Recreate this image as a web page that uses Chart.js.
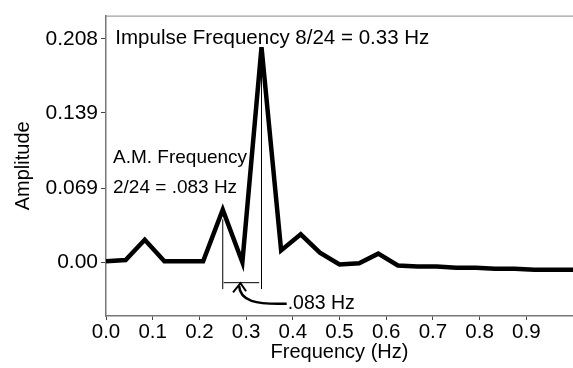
<!DOCTYPE html>
<html>
<head>
<meta charset="utf-8">
<script src="https://cdn.jsdelivr.net/npm/chart.js@4"></script>
<style>
  body { margin: 0; background: #fff; }
  canvas { display: block; }
</style>
</head>
<body>
<canvas id="spectrum" width="573" height="368"></canvas>
<script>
// harmonics of 1/24 Hz
const freqs = [0, 0.042, 0.083, 0.125, 0.167, 0.208, 0.25, 0.292, 0.333, 0.375, 0.417, 0.458, 0.5,
  0.542, 0.583, 0.625, 0.667, 0.708, 0.75, 0.792, 0.833, 0.875, 0.917, 0.958, 1.0];
const amps = [0.001, 0.002, 0.021, 0.001, 0.001, 0.001, 0.049, 0.0, 0.2, 0.011, 0.026, 0.009, -0.002,
  -0.001, 0.008, -0.003, -0.004, -0.004, -0.005, -0.005, -0.006, -0.006, -0.007, -0.007, -0.007];

const yTicks = [0, 0.069, 0.139, 0.208];
const yLabels = ["0.00", "0.069", "0.139", "0.208"];
const xTicks = [0, 0.1, 0.2, 0.3, 0.4, 0.5, 0.6, 0.7, 0.8, 0.9];
const xLabels = ["0.0", "0.1", "0.2", "0.3", "0.4", "0.5", "0.6", "0.7", "0.8", "0.9"];

const FONT = "'Liberation Sans', Arial, Helvetica, sans-serif";

// text + marker lines drawn on top, placed in data units
const notes = {
  id: "notes",
  afterDatasetsDraw(chart) {
    const { ctx, chartArea, scales } = chart;
    const px = v => scales.x.getPixelForValue(v);
    const py = v => scales.y.getPixelForValue(v);

    ctx.save();
    // frame top edge
    ctx.strokeStyle = "#888";
    ctx.lineWidth = 1;
    ctx.beginPath();
    ctx.moveTo(chartArea.left, chartArea.top + 0.5);
    ctx.lineTo(chartArea.right, chartArea.top + 0.5);
    ctx.stroke();

    ctx.fillStyle = "#000";
    ctx.textBaseline = "middle";
    ctx.textAlign = "left";
    ctx.font = "20.5px " + FONT;
    ctx.fillText("Impulse Frequency 8/24 = 0.33 Hz", px(0.02), py(0.208));
    ctx.font = "19px " + FONT;
    ctx.fillText("A.M. Frequency", px(0.015), py(0.097));
    ctx.fillText("2/24 = .083 Hz", px(0.015), py(0.069));
    ctx.font = "19.5px " + FONT;
    ctx.fillText(".083 Hz", px(0.389), py(-0.0385));

    // spacing markers between the two peaks
    ctx.strokeStyle = "#000";
    ctx.lineWidth = 1;
    ctx.beginPath();
    ctx.moveTo(px(0.25), py(0.04));
    ctx.lineTo(px(0.25), py(-0.025));
    ctx.moveTo(px(0.333), py(0.19));
    ctx.lineTo(px(0.333), py(-0.025));
    ctx.moveTo(px(0.252), py(-0.019));
    ctx.lineTo(px(0.328), py(-0.019));
    ctx.stroke();

    // curved arrow from label
    ctx.lineWidth = 2.5;
    ctx.beginPath();
    ctx.moveTo(px(0.387), py(-0.0385));
    ctx.bezierCurveTo(px(0.32), py(-0.0395), px(0.287), py(-0.036), px(0.285), py(-0.022));
    ctx.stroke();
    ctx.lineWidth = 2;
    ctx.beginPath();
    ctx.moveTo(px(0.272), py(-0.028));
    ctx.lineTo(px(0.288), py(-0.0195));
    ctx.lineTo(px(0.3), py(-0.027));
    ctx.stroke();
    ctx.restore();
  }
};

new Chart(document.getElementById("spectrum"), {
  type: "line",
  data: {
    datasets: [{
      data: freqs.map((f, i) => ({ x: f, y: amps[i] })),
      borderColor: "#000",
      borderWidth: 4.5,
      borderJoinStyle: "miter",
      pointRadius: 0,
      tension: 0,
      fill: false
    }]
  },
  options: {
    responsive: false,
    devicePixelRatio: 1,
    animation: false,
    layout: { padding: { top: 4, left: 0, right: 0, bottom: 0 } },
    plugins: { legend: { display: false }, tooltip: { enabled: false } },
    scales: {
      x: {
        type: "linear",
        min: 0,
        max: 1.0,
        afterBuildTicks: s => { s.ticks = xTicks.map(v => ({ value: v })); },
        afterFit: s => { s.height = 52; },
        ticks: {
          color: "#000",
          font: { family: FONT, size: 20.5 },
          padding: 0,
          maxRotation: 0,
          callback: (v, i) => xLabels[i]
        },
        grid: { drawOnChartArea: false, tickLength: 4, color: "#444" },
        border: { color: "#777", width: 1.5 },
        title: {
          display: true,
          text: "Frequency (Hz)",
          color: "#000",
          font: { family: FONT, size: 20 },
          padding: { top: 0, bottom: 4 }
        }
      },
      y: {
        min: -0.05,
        max: 0.2295,
        afterBuildTicks: s => { s.ticks = yTicks.map(v => ({ value: v })); },
        afterFit: s => { s.width = 106; },
        ticks: {
          color: "#000",
          font: { family: FONT, size: 21 },
          padding: 3,
          callback: (v, i) => yLabels[i]
        },
        grid: { drawOnChartArea: false, tickLength: 5, color: "#444" },
        border: { color: "#777", width: 1.5 },
        title: {
          display: true,
          text: "Amplitude",
          color: "#000",
          font: { family: FONT, size: 20 },
          padding: { top: 11, bottom: 0 }
        }
      }
    }
  },
  plugins: [notes]
});
</script>
</body>
</html>
